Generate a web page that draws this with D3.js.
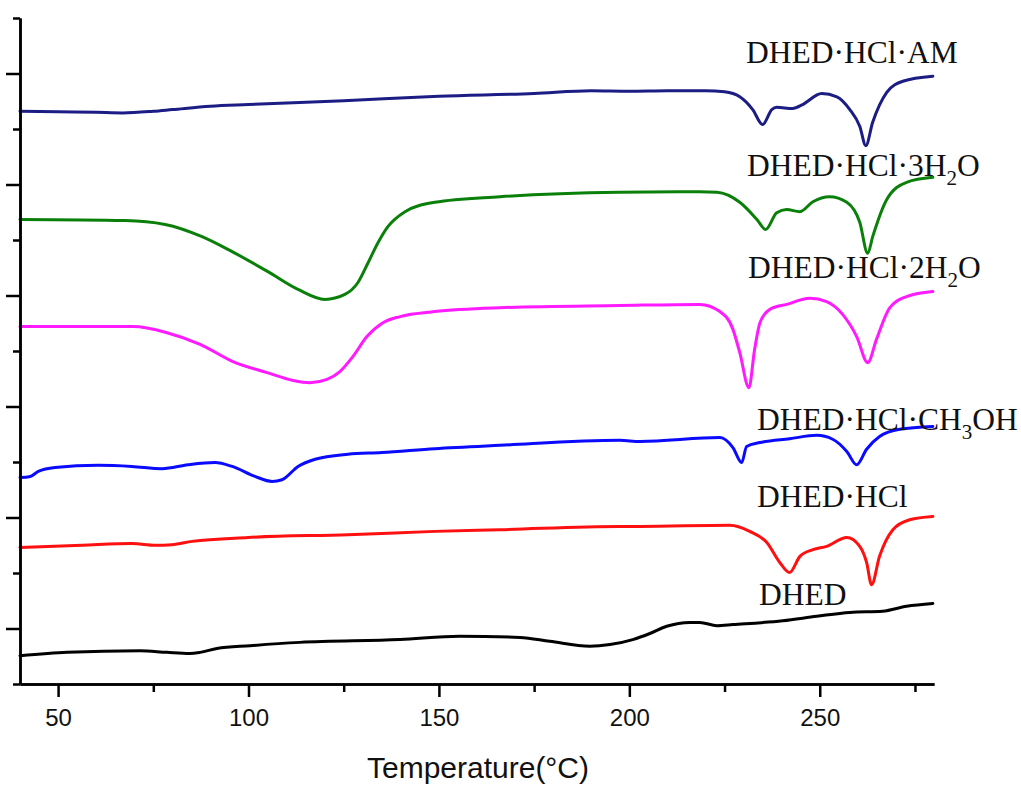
<!DOCTYPE html>
<html>
<head>
<meta charset="utf-8">
<script src="https://cdn.jsdelivr.net/npm/d3@7"></script>
<style>
html,body{margin:0;padding:0;background:#fff;}
svg{display:block;}
</style>
</head>
<body>
<svg id="chart" width="1021" height="785"></svg>
<script>
// ---- Data (temperature °C, heat flow in arbitrary units, curves offset) ----
const xMajorTicks = [50, 100, 150, 200, 250];
const xMinorTicks = [75, 125, 175, 225, 275];
const yMajorTicks = [0, 20, 40, 60, 80, 100];
const yMinorTicks = [-10, 10, 30, 50, 70, 90, 110];
const xTitle = "Temperature(°C)";

const amT = [40,50,60,67,75,80,90,100,125,150,175,190,200,210,220,225,229,232.4,235,237.4,238.7,242.9,245.5,250.5,254.5,257.9,260.5,262.1,263.9,267.6,271.8,279.7];
const amV = [93.2,93.1,93.0,92.9,93.2,93.5,94.1,94.4,95.1,95.9,96.4,96.9,96.8,96.9,96.9,96.7,95.8,93.5,90.8,93.5,93.9,93.7,94.4,96.4,95.8,93.5,90.5,87.0,91.2,96.6,98.6,99.5];

const h3T = [40,67.6,78.1,87.8,95.7,105.1,113.0,120.1,125.3,128.7,131.4,134.0,136.6,141.1,148.9,166.0,197.5,218.5,223.0,229.0,233.5,235.8,238.7,241.3,244.8,248.2,252.6,257.1,260.5,262.6,263.9,267.6,272.8,279.7];
const h3V = [73.7,73.5,72.8,70.6,67.9,64.3,61.1,59.3,60.2,62.3,65.9,69.5,72.4,75.1,76.8,77.8,78.6,78.7,78.6,76.8,73.7,71.9,74.9,75.5,75.1,76.9,77.8,76.8,73.2,67.6,70.6,77.3,80.4,81.3];

const h2T = [40,61.0,69.7,78.6,87.3,95.9,104.9,111.7,116.1,120.6,124.0,127.4,131.1,135.3,139.8,148.9,166.0,197.5,218.5,223.8,227.2,229.0,231.4,232.9,234.3,236.9,241.3,247.4,251.8,256.0,259.7,262.6,264.9,268.4,272.8,279.7];
const h2V = [54.4,54.4,54.4,53.3,51.2,48.1,46.1,44.7,44.3,44.9,46.3,49.0,52.6,55.1,56.2,57.1,57.8,58.2,58.4,57.1,53.9,49.7,43.4,50.3,55.1,57.5,58.4,59.5,58.9,56.6,52.6,47.9,52.1,57.8,59.8,60.7];

const meT = [40,42.7,44.8,49.2,60.5,69.4,77.3,84.1,91.2,95.7,101.7,106.2,108.8,113.0,117.5,126.1,135.0,148.9,166.0,197.5,202.8,223.8,227.2,229.5,230.8,234.3,242.1,249.2,253.4,257.1,259.7,262.3,265.7,271.0,279.7];
const meV = [27.2,27.4,28.3,29.0,29.4,29.2,28.8,29.5,29.9,29.2,27.4,26.5,26.8,29.2,30.5,31.4,31.7,32.4,33.0,33.9,33.7,34.4,32.6,29.9,32.8,33.5,34.2,34.8,34.1,31.9,29.5,32.3,34.6,35.9,36.4];

const hcT = [40,56.3,69.4,75.5,79.9,85.2,99.9,126.1,148.9,166.0,197.5,202.8,226.4,231.6,236.1,239.5,242.1,244.8,248.2,251.8,257.1,260.5,262.3,263.6,265.7,269.2,273.6,279.7];
const hcV = [14.6,15.0,15.3,15.0,15.1,15.7,16.4,16.9,17.5,17.8,18.4,18.4,18.6,17.5,15.5,11.9,10.1,13.0,14.2,14.8,16.4,14.8,11.9,7.9,13.0,17.8,19.6,20.2];

const dhT = [40,52.4,71.5,78.6,84.6,87.3,91.7,100.4,113.5,139.8,155.5,171.3,179.1,189.6,194.9,200.9,205.4,209.8,215.9,218.5,223.0,227.2,240.3,249.2,257.9,266.5,272.8,279.7];
const dhV = [-4.9,-4.3,-4.0,-4.3,-4.5,-4.3,-3.6,-3.1,-2.5,-2.0,-1.4,-1.6,-2.3,-3.2,-2.9,-2.0,-0.9,0.4,1.1,1.1,0.5,0.7,1.4,2.2,2.9,3.1,4.0,4.5];

const seriesNames = ["DHED·HCl·AM","DHED·HCl·3H2O","DHED·HCl·2H2O","DHED·HCl·CH3OH","DHED·HCl","DHED"];
const seriesT = [amT, h3T, h2T, meT, hcT, dhT];
const seriesV = [amV, h3V, h2V, meV, hcV, dhV];

// ---- Styling / layout ----
const colors = ["#1c1c85","#0a800a","#ff1aff","#0a0aff","#ff1010","#000000"];
// label pieces: [text, isSubscript]
const labelParts = [
  [["DHED·HCl·AM",false]],
  [["DHED·HCl·3H",false],["2",true],["O",false]],
  [["DHED·HCl·2H",false],["2",true],["O",false]],
  [["DHED·HCl·CH",false],["3",true],["OH",false]],
  [["DHED·HCl",false]],
  [["DHED",false]]
];
const labelPos = [[746,63],[747,176],[748,278],[757,430],[757,507],[759,605]];

const svg = d3.select("#chart");
const x = d3.scaleLinear().domain([40, 280]).range([20, 934]);
const y = d3.scaleLinear().domain([-10, 110]).range([684, 18]);

const line = d3.line()
  .x(d => x(d[0]))
  .y(d => y(d[1]))
  .curve(d3.curveMonotoneX);

seriesT.forEach((T, i) => {
  const pts = T.map((t, j) => [t, seriesV[i][j]]);
  svg.append("path")
    .datum(pts)
    .attr("d", line)
    .attr("fill", "none")
    .attr("stroke", colors[i])
    .attr("stroke-width", 3)
    .attr("stroke-linejoin", "round")
    .attr("stroke-linecap", "round");
});

// axes
const fmt = d3.format("d");
const gx = svg.append("g").attr("transform", `translate(0,${y(-10)})`);
gx.call(d3.axisBottom(x).tickValues(xMajorTicks).tickSize(13).tickSizeOuter(0).tickPadding(12).tickFormat(fmt));
const gxm = svg.append("g").attr("transform", `translate(0,${y(-10)})`);
gxm.call(d3.axisBottom(x).tickValues(xMinorTicks).tickSize(8).tickSizeOuter(0).tickFormat(""));

const gy = svg.append("g").attr("transform", `translate(${x(40)},0)`);
gy.call(d3.axisLeft(y).tickValues(yMajorTicks).tickSize(14).tickSizeOuter(0).tickFormat(""));
const gym = svg.append("g").attr("transform", `translate(${x(40)},0)`);
gym.call(d3.axisLeft(y).tickValues(yMinorTicks).tickSize(7).tickSizeOuter(0).tickFormat(""));

[gx, gxm, gy, gym].forEach(g => {
  g.selectAll(".domain").attr("stroke", "#000").attr("stroke-width", 2.5);
  g.selectAll(".tick line").attr("stroke", "#000").attr("stroke-width", 2.5);
});
gx.selectAll(".tick text")
  .attr("font-family", "Liberation Sans, Arial, sans-serif")
  .attr("font-size", 24)
  .attr("fill", "#111")
  .attr("dy", "0.71em");

svg.append("text")
  .attr("x", 478).attr("y", 778)
  .attr("text-anchor", "middle")
  .attr("font-family", "Liberation Sans, Arial, sans-serif")
  .attr("font-size", 30)
  .attr("fill", "#111")
  .text(xTitle);

// curve labels
labelParts.forEach((parts, i) => {
  const t = svg.append("text")
    .attr("x", labelPos[i][0]).attr("y", labelPos[i][1])
    .attr("font-family", "Liberation Serif, Times New Roman, serif")
    .attr("font-size", 31.5)
    .attr("fill", "#111");
  parts.forEach(p => {
    const ts = t.append("tspan").text(p[0]);
    if (p[1]) ts.attr("font-size", 21).attr("dy", 9);
    else if (t.selectAll("tspan").size() > 1) ts.attr("dy", -9);
  });
});
</script>
</body>
</html>
